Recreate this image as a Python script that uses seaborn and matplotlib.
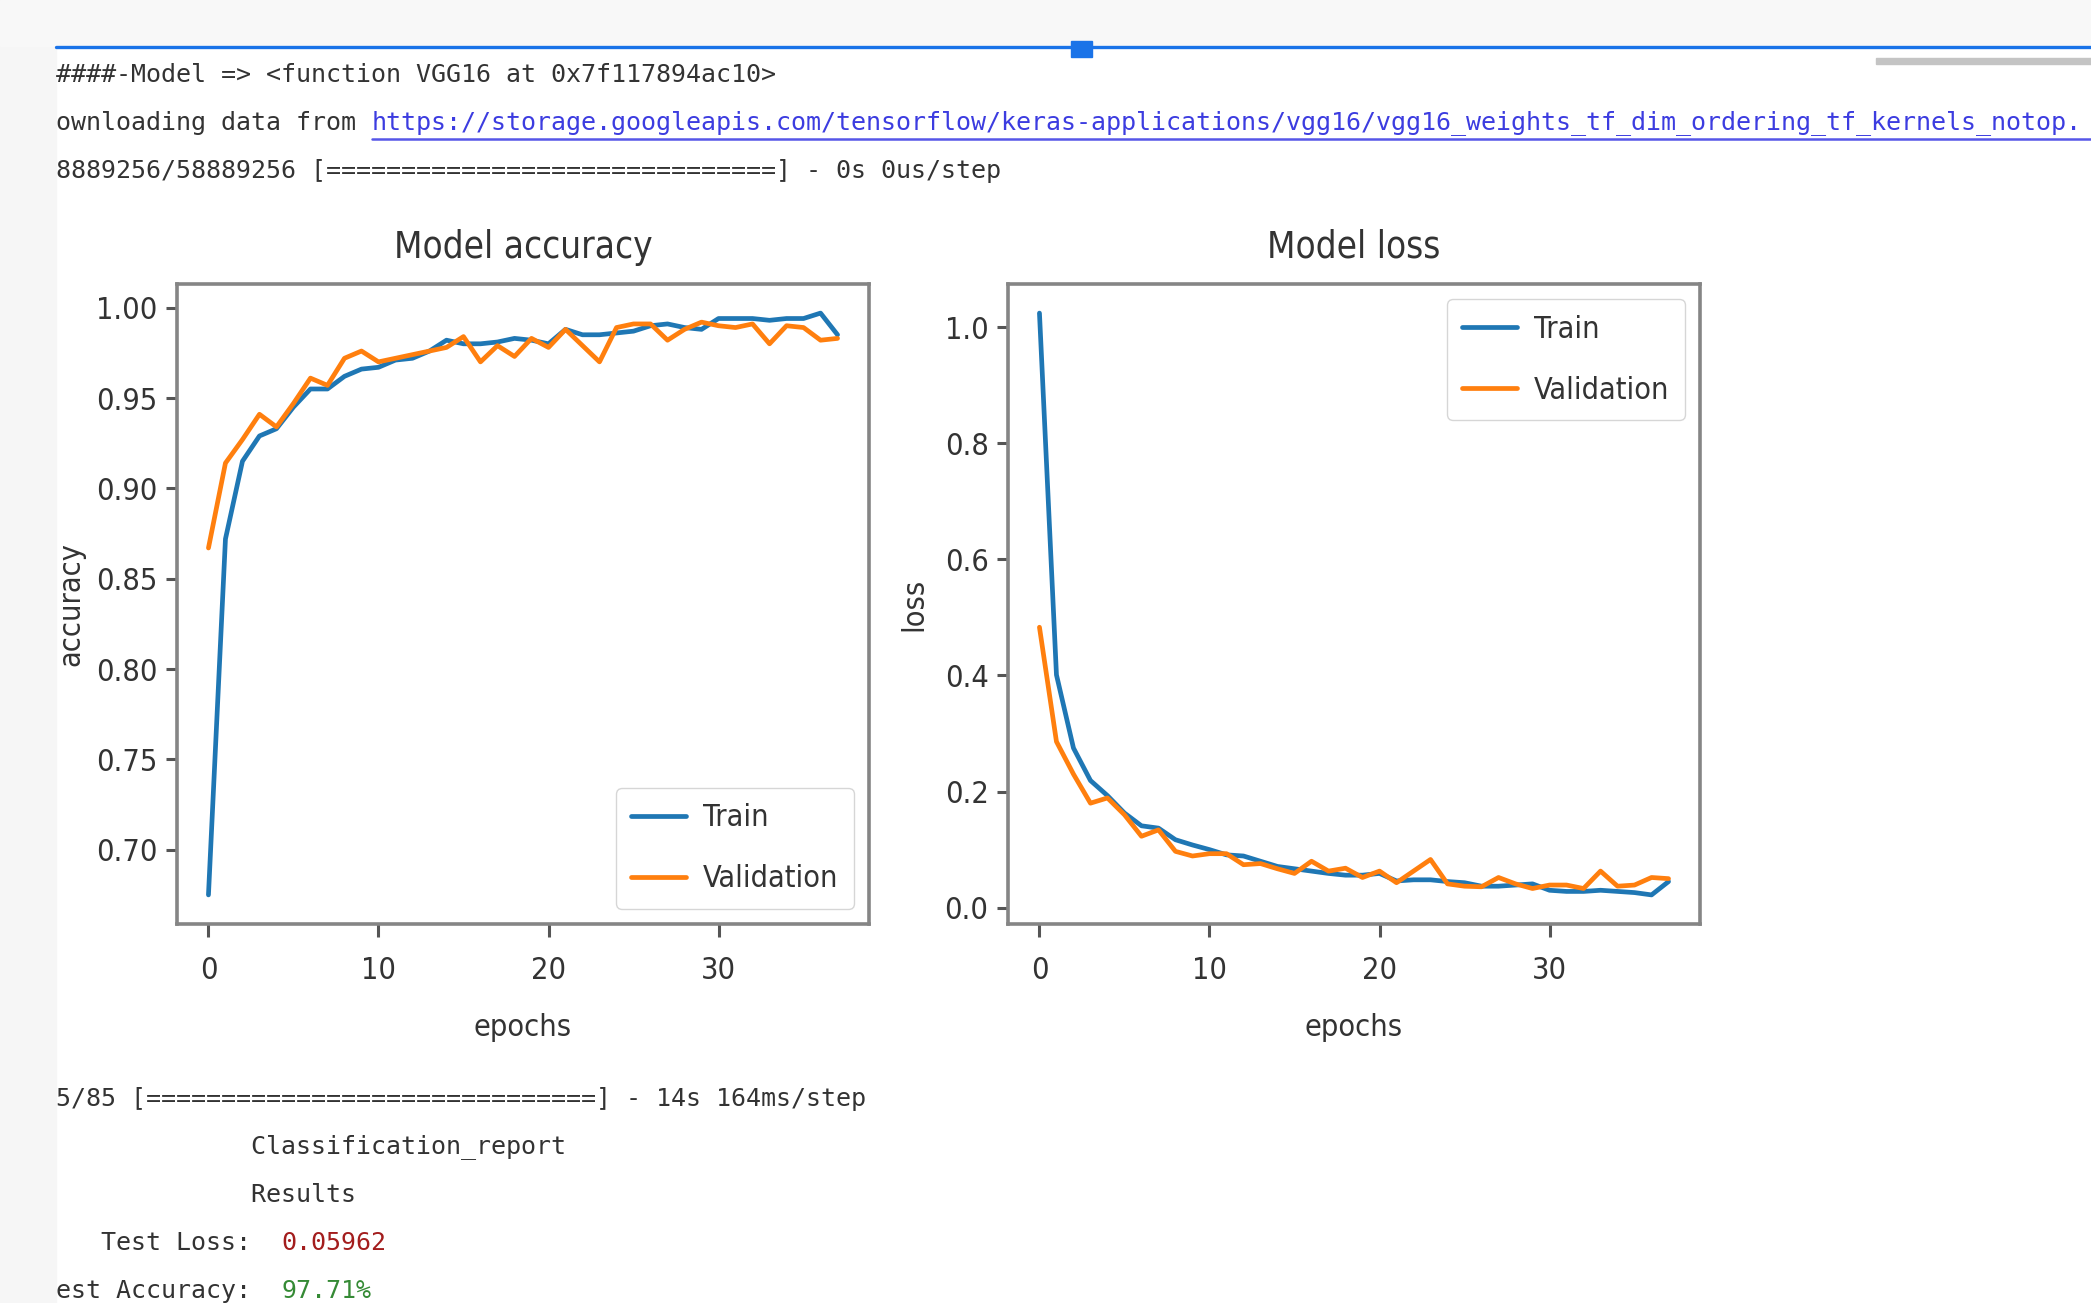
import numpy as np
import matplotlib
matplotlib.use('Agg')
import matplotlib.pyplot as plt
from matplotlib import font_manager
from matplotlib.patches import Rectangle
from matplotlib.lines import Line2D
from matplotlib.ticker import MultipleLocator
import seaborn as sns

#------------------------------------------------------------------------------
#                           DATA
#------------------------------------------------------------------------------

train_acc = [0.675, 0.872, 0.915, 0.929, 0.933, 0.945, 0.955, 0.955, 0.962, 0.966,
             0.967, 0.971, 0.972, 0.976, 0.982, 0.980, 0.980, 0.981, 0.983, 0.982,
             0.980, 0.988, 0.985, 0.985, 0.986, 0.987, 0.990, 0.991, 0.989, 0.988,
             0.994, 0.994, 0.994, 0.993, 0.994, 0.994, 0.997, 0.985]
val_acc = [0.867, 0.914, 0.927, 0.941, 0.934, 0.947, 0.961, 0.957, 0.972, 0.976,
           0.970, 0.972, 0.974, 0.976, 0.978, 0.984, 0.970, 0.979, 0.973, 0.983,
           0.978, 0.988, 0.979, 0.970, 0.989, 0.991, 0.991, 0.982, 0.988, 0.992,
           0.990, 0.989, 0.991, 0.980, 0.990, 0.989, 0.982, 0.983]
train_loss = [1.024, 0.401, 0.275, 0.219, 0.193, 0.163, 0.141, 0.137, 0.117, 0.108,
              0.100, 0.091, 0.089, 0.080, 0.071, 0.067, 0.063, 0.059, 0.056, 0.056,
              0.059, 0.046, 0.048, 0.048, 0.045, 0.043, 0.037, 0.037, 0.039, 0.041,
              0.030, 0.028, 0.028, 0.030, 0.028, 0.026, 0.022, 0.045]
val_loss = [0.483, 0.286, 0.230, 0.180, 0.189, 0.160, 0.123, 0.134, 0.097, 0.089,
            0.093, 0.093, 0.074, 0.076, 0.067, 0.059, 0.080, 0.063, 0.068, 0.052,
            0.063, 0.043, 0.063, 0.083, 0.041, 0.037, 0.036, 0.052, 0.041, 0.033,
            0.039, 0.039, 0.033, 0.063, 0.037, 0.039, 0.052, 0.050]
epochs = np.arange(len(train_acc))

series_labels = ['Train', 'Validation']

# notebook output around the plots
top_lines = ['####-Model => <function VGG16 at 0x7f117894ac10>',
             'ownloading data from ',
             '8889256/58889256 [==============================] - 0s 0us/step']
link_text = ('https://storage.googleapis.com/tensorflow/keras-applications/vgg16/'
             'vgg16_weights_tf_dim_ordering_tf_kernels_notop.')
bottom_lines = ['5/85 [==============================] - 14s 164ms/step',
                '             Classification_report',
                '             Results']
loss_prefix = '   Test Loss:  '
acc_prefix = 'est Accuracy:  '
test_loss = 0.05962
test_acc = 97.71

#------------------------------------------------------------------------------
#                           STYLE
#------------------------------------------------------------------------------

W, H = 2091, 1303

sns.set_style('ticks')
plt.rcParams['font.family'] = ['DejaVu Sans']

# the screenshot text is squeezed sideways, use the condensed face if it is there
cond_path = font_manager.findfont(font_manager.FontProperties(family='DejaVu Sans', stretch='condensed'))
use_cond = 'Condensed' in cond_path and 'Bold' not in cond_path
if use_cond:
    plt.rcParams['font.stretch'] = 'condensed'
    base = 22
else:
    base = 20

plt.rcParams.update({
    'font.size': base, 'axes.titlesize': base * 1.2, 'axes.labelsize': base,
    'xtick.labelsize': base, 'ytick.labelsize': base, 'legend.fontsize': base,
    'text.color': '#333333', 'axes.labelcolor': '#333333',
    'xtick.color': '#555555', 'ytick.color': '#555555',
    'xtick.labelcolor': '#333333', 'ytick.labelcolor': '#333333',
    'axes.edgecolor': '#858585', 'axes.linewidth': 2.6,
    'xtick.major.size': 9, 'ytick.major.size': 8,
    'xtick.major.width': 2.2, 'ytick.major.width': 2.2,
    'xtick.major.pad': 14, 'ytick.major.pad': 6,
})

blue, orange = '#1f77b4', '#ff7f0e'


def fx(x):
    return x / W


def fy(y):
    return 1 - y / H


fig = plt.figure(figsize=(W / 100, H / 100), dpi=100)
fig.patch.set_facecolor('white')

# notebook chrome
fig.add_artist(Rectangle((0, 0), fx(56), 1, transform=fig.transFigure,
                         color='#f6f6f6', zorder=0))
fig.add_artist(Rectangle((0, fy(46)), 1, 46 / H, transform=fig.transFigure,
                         color='#f8f8f8', zorder=0))
fig.add_artist(Line2D([fx(56), 1], [fy(47), fy(47)], transform=fig.transFigure,
                      color='#1a73e8', lw=2.4))
fig.add_artist(Rectangle((fx(1071), fy(57)), 21 / W, 16 / H, transform=fig.transFigure,
                         color='#1a73e8'))
fig.add_artist(Rectangle((fx(1876), fy(64)), 1 - fx(1876), 6 / H, transform=fig.transFigure,
                         color='#c4c4c4'))

#------------------------------------------------------------------------------
#                           PLOTS
#------------------------------------------------------------------------------

ax1 = fig.add_axes([fx(177), fy(924), 692 / W, 640 / H])
ax2 = fig.add_axes([fx(1008), fy(924), 692 / W, 640 / H])

sns.lineplot(x=epochs, y=train_acc, ax=ax1, label=series_labels[0], color=blue, lw=3.4)
sns.lineplot(x=epochs, y=val_acc, ax=ax1, label=series_labels[1], color=orange, lw=3.4)
sns.lineplot(x=epochs, y=train_loss, ax=ax2, label=series_labels[0], color=blue, lw=3.4)
sns.lineplot(x=epochs, y=val_loss, ax=ax2, label=series_labels[1], color=orange, lw=3.4)

leg_kw = dict(handlelength=1.8, handletextpad=0.55, borderpad=0.5, labelspacing=1.05)

ax1.set_title('Model accuracy', pad=19)
ax1.set_ylabel('accuracy', labelpad=8)
ax1.yaxis.set_major_locator(MultipleLocator(0.05))
ax1.legend(loc='lower right', **leg_kw)

ax2.set_title('Model loss', pad=19)
ax2.set_ylabel('loss', labelpad=12)
ax2.yaxis.set_major_locator(MultipleLocator(0.2))
ax2.legend(loc='upper right', **leg_kw)

for ax in (ax1, ax2):
    ax.set_xlabel('epochs', labelpad=20)
    ax.xaxis.set_major_locator(MultipleLocator(10))
    for s in ax.spines.values():
        s.set_visible(True)

#------------------------------------------------------------------------------
#                           CONSOLE TEXT
#------------------------------------------------------------------------------

mono = dict(family='DejaVu Sans Mono', stretch='normal', fontsize=18, color='#333333',
            va='center', ha='left')
adv = 0.6021 * 18 * 100 / 72  # char advance in px

for txt, y in zip(top_lines, [75, 123, 171]):
    fig.text(fx(56), fy(y), txt, **mono)
link_x = 56 + len(top_lines[1]) * adv
fig.text(fx(link_x), fy(123), link_text, **{**mono, 'color': '#3c3ce0'})
fig.add_artist(Line2D([fx(link_x), 1], [fy(139), fy(139)], transform=fig.transFigure,
                      color='#5656e8', lw=1.8))

for txt, y in zip(bottom_lines, [1099, 1147, 1195]):
    fig.text(fx(56), fy(y), txt, **mono)
fig.text(fx(56), fy(1243), loss_prefix, **mono)
fig.text(fx(56 + len(loss_prefix) * adv), fy(1243), f'{test_loss:.5f}', **{**mono, 'color': '#a31d1d'})
fig.text(fx(56), fy(1291), acc_prefix, **mono)
fig.text(fx(56 + len(acc_prefix) * adv), fy(1291), f'{test_acc:.2f}%', **{**mono, 'color': '#358a35'})

fig.savefig('out.png', dpi=100)
